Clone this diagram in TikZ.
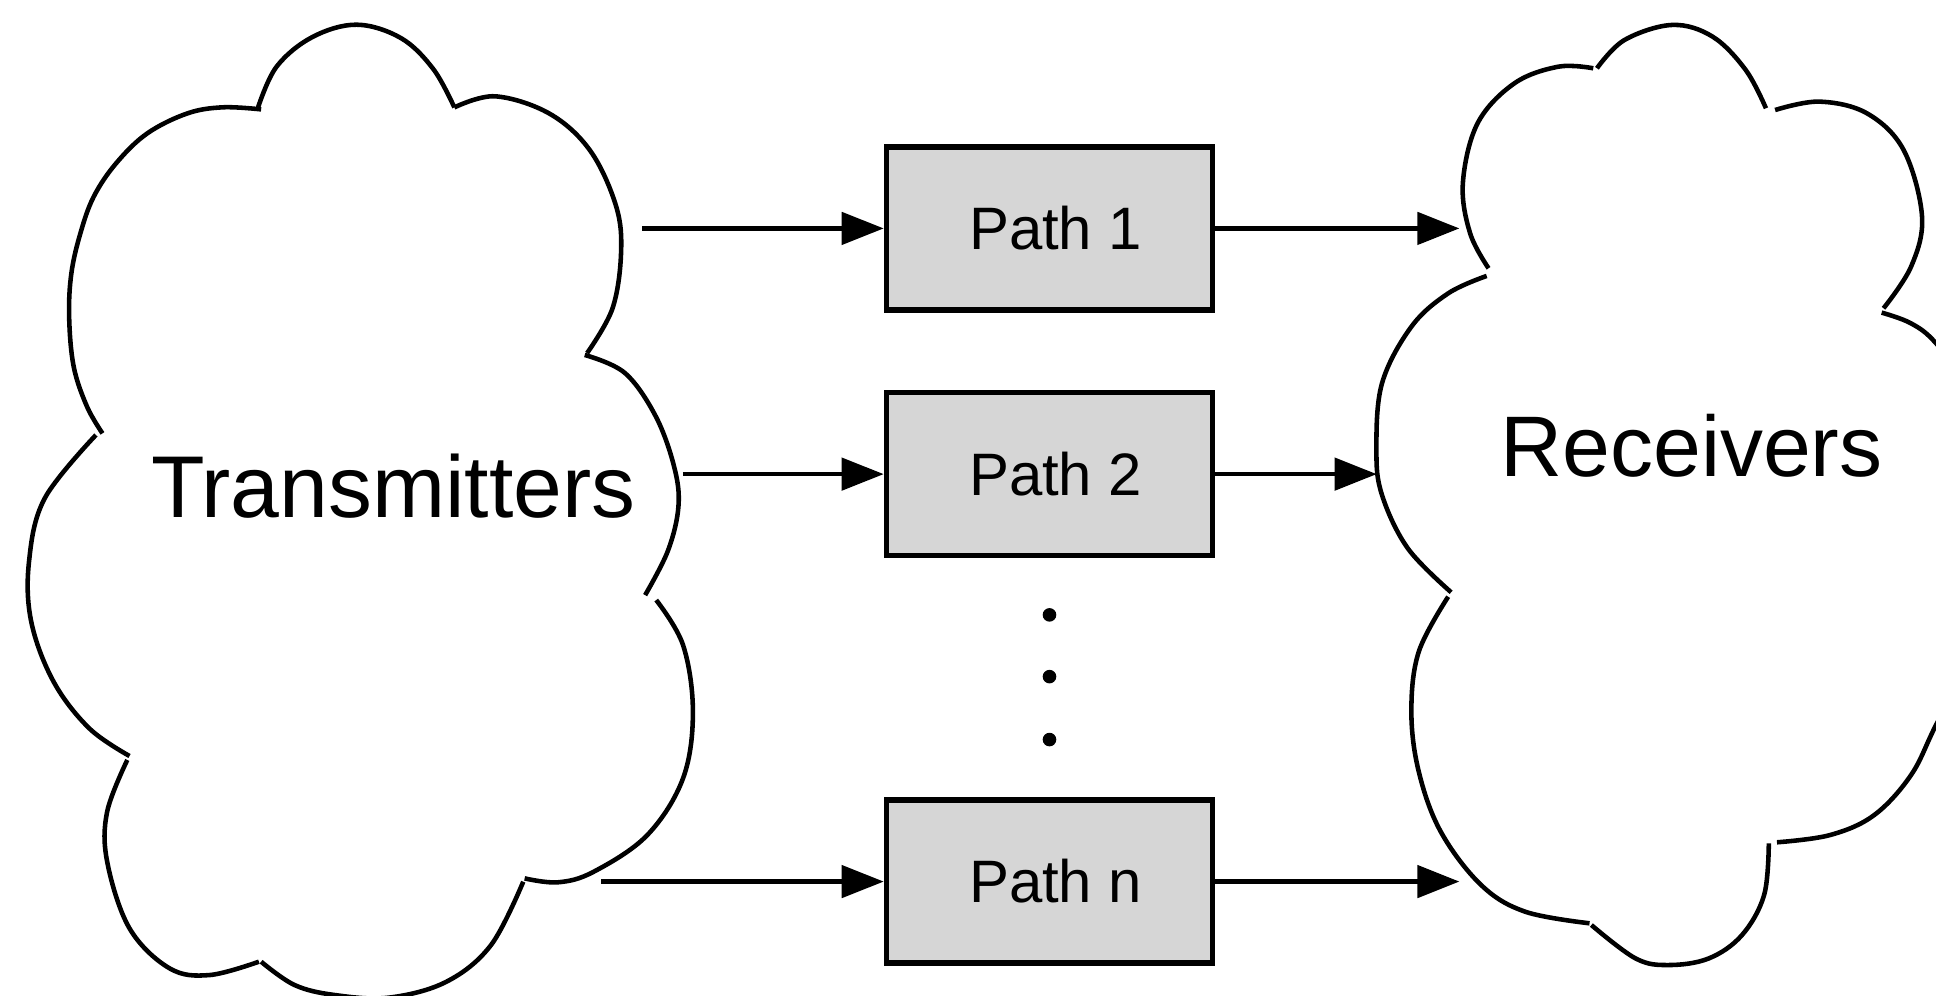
\documentclass[tikz,border=0pt]{standalone}
\usepackage{fontspec}
\setmainfont{Liberation Sans}
\usetikzlibrary{arrows.meta}
\definecolor{boxgray}{RGB}{214,214,214}
\begin{document}
\begin{tikzpicture}[x=0.01cm,y=-0.01cm,
  cloudline/.style={line width=1.05pt},
  pathbox/.style={draw, line width=1.25pt, fill=boxgray, minimum width=2.64cm, minimum height=1.32cm, font=\fontsize{13.8}{17}\selectfont, inner sep=0pt},
  conn/.style={line width=1pt, -{Triangle[length=0.34cm, width=0.26cm]}},
  bigtext/.style={font=\fontsize{20.2}{24}\selectfont, inner sep=0pt, anchor=base},
  dotmark/.style={circle, fill=black, inner sep=0pt, minimum size=0.11cm}]
\clip (0,0) rectangle (1568,806);
\fill[white] (0,0) rectangle (1568,806);
% Transmitters cloud
\draw[cloudline] plot[smooth, tension=0.6] coordinates {(209,87) (224,54) (253,30) (289,20) (325,31) (351,56) (368,87)};
\draw[cloudline] plot[smooth, tension=0.6] coordinates {(368,87) (401,78) (445,92) (478,122) (499,167) (503,205) (496,250) (475.5,286)};
\draw[cloudline] plot[smooth, tension=0.6] coordinates {(473.6,287.5) (506,302) (531,337) (546,378) (549.5,410) (541,446) (522.5,482)};
\draw[cloudline] plot[smooth, tension=0.6] coordinates {(531.5,486) (553.2,522.4) (561.2,576.4) (553.2,630.4) (524.3,676.3) (480.9,706) (451.9,714.6) (424.9,711.4)};
\draw[cloudline] plot[smooth, tension=0.6] coordinates {(423.8,714.1) (397.7,765.4) (361.6,795.1) (315,808) (271.2,805.9) (238.6,797.8) (211.5,778.9)};
\draw[cloudline] plot[smooth, tension=0.6] coordinates {(209.7,778.9) (169.9,789.7) (137.4,784.3) (104.9,751.9) (86.8,697.9) (86.8,657.4) (103.1,615.5)};
\draw[cloudline] plot[smooth, tension=0.6] coordinates {(104.9,612.3) (72.3,589.9) (43.4,552.1) (25.3,503.5) (23.5,454.9) (36.2,403.6) (77.7,352.3)};
\draw[cloudline] plot[smooth, tension=0.6] coordinates {(83,351) (70.5,329.4) (59.7,297) (56,256.5) (57.8,221.4) (65.1,189) (75.9,159.3) (94,132.3) (119.3,108) (151.9,91.8) (180.8,86.9) (211.5,88.6)};
\node[bigtext] (tx) at (318.5,419) {Transmitters};
% Receivers cloud
\draw[cloudline] plot[smooth, tension=0.6] coordinates {(1205.6,217.3) (1190.7,189) (1184.8,148.5) (1196.7,99.9) (1226.5,67.5) (1262.2,54) (1290.4,55.3)};
\draw[cloudline] plot[smooth, tension=0.6] coordinates {(1293.4,55.3) (1315.7,32.4) (1354.4,20.2) (1387.1,29.7) (1413.9,56.7) (1430.3,87.7)};
\draw[cloudline] plot[smooth, tension=0.6] coordinates {(1437.7,89.1) (1473.4,82.3) (1512.1,91.8) (1541.8,121.5) (1556.7,175.5) (1547.8,216) (1525.5,249.7)};
\draw[cloudline] plot[smooth, tension=0.6] coordinates {(1524,253.2) (1547.8,261.9) (1568,278) (1600,320) (1616,420) (1600,525) (1568,587.2) (1547.8,627.7) (1518,660.1) (1482.3,676.3) (1439.2,682.2)};
\draw[cloudline] plot[smooth, tension=0.6] coordinates {(1432.6,683) (1428.8,724.9) (1410.9,757.3) (1384.1,776.2) (1351.4,781.6) (1324.6,776.2) (1288.9,749.2)};
\draw[cloudline] plot[smooth, tension=0.6] coordinates {(1287.4,747.8) (1235.3,738.4) (1199.6,716.8) (1166.9,673.6) (1149.1,625) (1143.1,576.4) (1149.1,527.8) (1172.9,483.3)};
\draw[cloudline] plot[smooth, tension=0.6] coordinates {(1175.3,479.7) (1140.2,444.1) (1119.3,400.9) (1114.8,364.5) (1119.3,310.5) (1143.1,264.6) (1172.9,237.6) (1204.1,223.5)};
\node[bigtext, font=\fontsize{19.8}{24}\selectfont] (rx) at (1370,386) {Receivers};
% Path boxes
\node[pathbox] (p1) at (850,185) {\hspace*{0.1cm}Path 1};
\node[pathbox] (p2) at (850,384) {\hspace*{0.1cm}Path 2};
\node[pathbox] (pn) at (850,714) {\hspace*{0.1cm}Path n};
% dots
\node[dotmark] (d1) at (850,498) {};
\node[dotmark] (d2) at (850,548) {};
\node[dotmark] (d3) at (850,599) {};
% connector end points
\coordinate (s1) at (520,185);
\coordinate (s2) at (553,384);
\coordinate (sn) at (487,714);
\coordinate (e1) at (1182,185);
\coordinate (e2) at (1115,384);
\coordinate (en) at (1182,714);
\draw[conn] (s1) -- (p1.west);
\draw[conn] (s2) -- (p2.west);
\draw[conn] (sn) -- (pn.west);
\draw[conn] (p1.east) -- (e1);
\draw[conn] (p2.east) -- (e2);
\draw[conn] (pn.east) -- (en);
\end{tikzpicture}
\end{document}
